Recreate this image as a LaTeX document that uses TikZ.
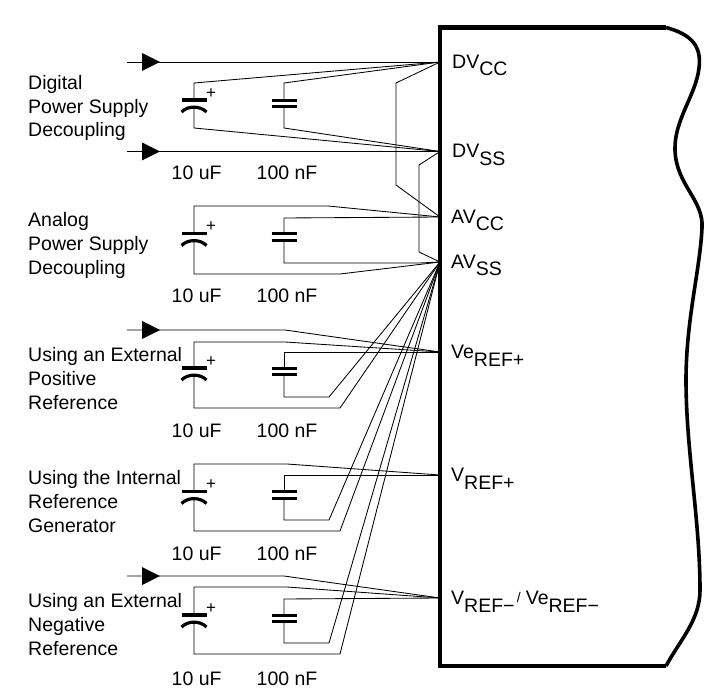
\documentclass[tikz,border=0pt]{standalone}
\usepackage{fontspec}
\setmainfont{Liberation Sans}
\newcommand{\lblfont}{\fontsize{19.5}{23}\selectfont}
\newcommand{\pinlbl}[2]{#1\raisebox{-7.5pt}{#2}}
\begin{document}
\begin{tikzpicture}[x=1pt,y=-1pt,
  wire/.style={line width=0.85pt, line join=miter},
  plate/.style={line width=3.2pt},
  boxline/.style={line width=4.2pt, line join=miter},
  lbl/.style={anchor=base west, inner sep=0pt, font=\lblfont},
  pin/.style={anchor=base west, inner sep=0pt, font=\lblfont},
  plus/.style={inner sep=0pt, font=\fontsize{17}{17}\selectfont}]
\useasboundingbox (0,0) rectangle (723,695);

% pins on the chip edge
\coordinate (dvcc) at (440,62);
\coordinate (dvss) at (440,151.5);
\coordinate (avcc) at (440,217);
\coordinate (avss) at (440,262);
\coordinate (verefp) at (440,352);
\coordinate (vrefp) at (440,475);
\coordinate (vrefm) at (440,598);

% chip outline with torn right edge
\draw[boxline] (666,27.5) -- (440,27.5) -- (440,666) -- (666,666);
\draw[line width=3.6pt] (666,27.5) .. controls (690,34) and (702,45) .. (699,68)
  .. controls (696,95) and (674,120) .. (675,150)
  .. controls (676,185) and (704,200) .. (702,228)
  .. controls (700,270) and (686,320) .. (686,380)
  .. controls (686,450) and (700,520) .. (700,590)
  .. controls (700,620) and (680,640) .. (666,666);

% capacitor drawing commands
\newcommand{\polcap}[2]{%
  \draw[plate] (#1-12.5,#2-3.5) -- (#1+12.5,#2-3.5);
  \draw[plate] (#1-12.5,#2+8.5) .. controls (#1-6,#2+2) and (#1+6,#2+2) .. (#1+12.5,#2+8.5);
  \node[plus] at (#1+17,#2-10) {+};}
\newcommand{\npcap}[2]{%
  \draw[plate] (#1-12.5,#2-3.3) -- (#1+12.5,#2-3.3);
  \draw[plate] (#1-12.5,#2+3.3) -- (#1+12.5,#2+3.3);}
\newcommand{\inarrow}[1]{%
  \fill (142,#1-9) -- (160,#1) -- (142,#1+9) -- cycle;}

% ---------- Section 1: digital supply ----------
\polcap{194}{103.5}
\npcap{284}{103.5}
\draw[wire] (dvcc) -- (194,83) -- (194,100);
\draw[wire] (dvcc) -- (284,83) -- (284,100);
\draw[wire] (dvss) -- (194,128) -- (194,107);
\draw[wire] (dvss) -- (284,128) -- (284,107);
\draw[wire] (127,62) -- (dvcc);
\draw[wire] (127,151.5) -- (dvss);
\inarrow{62}
\inarrow{151.5}
\draw[wire] (dvcc) -- (396,83) -- (396,185) -- (avcc);
\draw[wire] (dvss) -- (419,165) -- (419,252) -- (avss);

% ---------- Section 2: analog supply ----------
\polcap{194}{237}
\npcap{284}{237}
\draw[wire] (194,233.5) -- (194,206) -- (328,206) -- (avcc);
\draw[wire] (284,233.7) -- (284,218) -- (avcc);
\draw[wire] (284,240.3) -- (284,263) -- (420,263) -- (avss);
\draw[wire] (194,240.5) -- (194,274) -- (340,274) -- (avss);

% ---------- Section 3: external positive reference ----------
\polcap{194}{371.5}
\npcap{284}{371.5}
\draw[wire] (127,330) -- (285,330) -- (verefp);
\inarrow{330}
\draw[wire] (194,368) -- (194,342) -- (285,342) -- (verefp);
\draw[wire] (284,368.2) -- (284,352) -- (verefp);
\draw[wire] (284,374.8) -- (284,397) -- (329,397) -- (avss);
\draw[wire] (194,375) -- (194,408) -- (340,408) -- (avss);

% ---------- Section 4: internal reference ----------
\polcap{194}{495}
\npcap{284}{495}
\draw[wire] (194,491.5) -- (194,464) -- (287,464) -- (vrefp);
\draw[wire] (284,491.7) -- (284,475) -- (vrefp);
\draw[wire] (284,498.3) -- (284,520) -- (329,520) -- (avss);
\draw[wire] (194,498.5) -- (194,531) -- (340,531) -- (avss);

% ---------- Section 5: external negative reference ----------
\polcap{194}{618.5}
\npcap{284}{618.5}
\draw[wire] (127,576) -- (284,576) -- (vrefm);
\inarrow{576}
\draw[wire] (194,615) -- (194,587) -- (287,587) -- (vrefm);
\draw[wire] (284,615.2) -- (284,599) -- (vrefm);
\draw[wire] (284,621.8) -- (284,643) -- (329,643) -- (avss);
\draw[wire] (194,622) -- (194,654) -- (340,654) -- (avss);

% ---------- left labels ----------
\node[lbl] (t1a) at (28,89.3) {Digital};
\node[lbl] (t1b) at (28,113.3) {Power Supply};
\node[lbl] (t1c) at (28,137) {Decoupling};
\node[lbl] (t2a) at (28,227) {Analog};
\node[lbl] (t2b) at (28,251) {Power Supply};
\node[lbl] (t2c) at (28,275) {Decoupling};
\node[lbl] (t3a) at (28,361) {Using an External};
\node[lbl] (t3b) at (28,385) {Positive};
\node[lbl] (t3c) at (28,409) {Reference};
\node[lbl] (t4a) at (28,484) {Using the Internal};
\node[lbl] (t4b) at (28,508) {Reference};
\node[lbl] (t4c) at (28,532) {Generator};
\node[lbl] (t5a) at (28,607) {Using an External};
\node[lbl] (t5b) at (28,631) {Negative};
\node[lbl] (t5c) at (28,655) {Reference};

% ---------- value labels ----------
\foreach \yy/\nm in {179.3/a,302/b,437/c,560/d,685/e}{
  \node[lbl] (v10\nm) at (171.5,\yy) {10 uF};
  \node[lbl] (v100\nm) at (256.5,\yy) {100 nF};
}

% ---------- pin labels ----------
\node[pin] (l1) at (452,68.5) {\pinlbl{DV}{CC}};
\node[pin] (l2) at (452,158) {\pinlbl{DV}{SS}};
\node[pin] (l3) at (451,223.5) {\pinlbl{AV}{CC}};
\node[pin] (l4) at (451,268.5) {\pinlbl{AV}{SS}};
\node[pin] (l5) at (451,358.5) {\pinlbl{Ve}{REF+}};
\node[pin] (l6) at (451,481.5) {\pinlbl{V}{REF+}};
\node[pin] (l7) at (451,604.5) {\pinlbl{V}{REF−}\raisebox{2pt}{\fontsize{14}{14}\selectfont\,/}\hspace{5pt}\pinlbl{Ve}{REF−}};
\end{tikzpicture}
\end{document}
